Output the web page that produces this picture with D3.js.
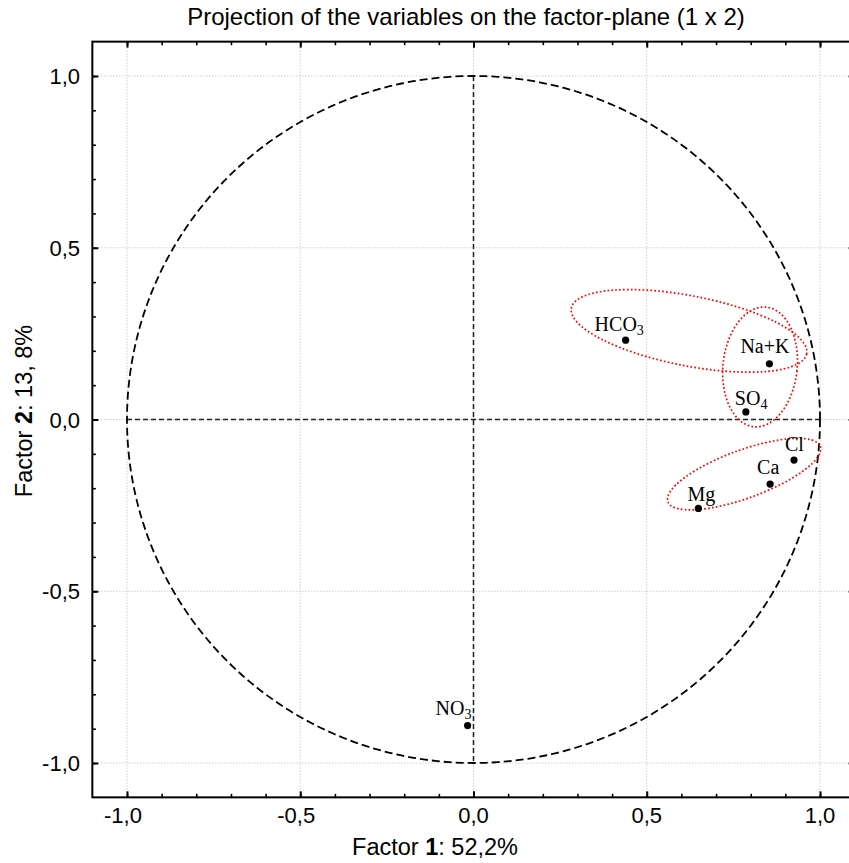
<!DOCTYPE html>
<html><head><meta charset="utf-8">
<script src="https://cdn.jsdelivr.net/npm/d3@7"></script>
<style>body{margin:0;background:#fff} svg{display:block}</style>
</head><body><svg id="c" width="849" height="863"></svg>
<script>
// ---- data ----
const variables = ["HCO3", "Na+K", "SO4", "Cl", "Ca", "Mg", "NO3"];
const labelBase = ["HCO", "Na+K", "SO", "Cl", "Ca", "Mg", "NO"];
const labelSub  = ["3", "", "4", "", "", "", "3"];
const factor1 = [0.439, 0.854, 0.786, 0.925, 0.856, 0.649, -0.017];
const factor2 = [0.231, 0.162, 0.022, -0.118, -0.188, -0.259, -0.891];
const labelDx = [-31, -29, -11, -9, -13, -11, -32];
const labelDy = [-9, -11, -7, -9, -10, -7, -11];
const tickValues = [-1, -0.5, 0, 0.5, 1];
const tickLabels = ["-1,0", "-0,5", "0,0", "0,5", "1,0"];
const minorTicks = [-1.0,-0.9,-0.8,-0.7,-0.6,-0.5,-0.4,-0.3,-0.2,-0.1,0,0.1,0.2,0.3,0.4,0.5,0.6,0.7,0.8,0.9,1.0];
// grouping ellipses (data units)
const groupCx = [0.622, 0.827, 0.781];
const groupCy = [0.258, 0.153, -0.159];
const groupRx = [0.346, 0.107, 0.234];
const groupRy = [0.102, 0.175, 0.070];
const groupAngle = [11, 6, -20];

const titleText = "Projection of the variables on the factor-plane (1 x 2)";

// ---- scales ----
const x = d3.scaleLinear().domain([-1.1, 1.1]).range([92.35, 854.65]);
const y = d3.scaleLinear().domain([-1.1, 1.1]).range([797.35, 41.65]);
const svg = d3.select("#c");
const SANS = "'Liberation Sans', Arial, sans-serif";
const SERIF = "'Liberation Serif', 'Times New Roman', serif";

// grid
const grid = svg.append("g").attr("stroke", "#b8b8b8").attr("stroke-width", 1).attr("stroke-dasharray", "1,2");
tickValues.forEach(v => {
  grid.append("line").attr("x1", x(v)).attr("x2", x(v)).attr("y1", y(1.1)).attr("y2", y(-1.1));
  grid.append("line").attr("y1", y(v)).attr("y2", y(v)).attr("x1", x(-1.1)).attr("x2", x(1.1));
});

// zero lines (dashed)
const zl = svg.append("g").attr("stroke", "#222").attr("stroke-width", 1.5).attr("stroke-dasharray", "5,3");
zl.append("line").attr("x1", x(-1)).attr("x2", x(1)).attr("y1", y(0)).attr("y2", y(0));
zl.append("line").attr("x1", x(0)).attr("x2", x(0)).attr("y1", y(1)).attr("y2", y(-1));

// unit circle
const circ = d3.range(0, 361, 1).map(a => [Math.cos(a * Math.PI / 180), Math.sin(a * Math.PI / 180)]);
svg.append("path")
  .attr("d", d3.line().x(d => x(d[0])).y(d => y(d[1]))(circ))
  .attr("fill", "none").attr("stroke", "#000").attr("stroke-width", 1.8).attr("stroke-dasharray", "8,4");

// group ellipses
groupCx.forEach((cx, i) => {
  const px = x(cx), py = y(groupCy[i]);
  const rxp = x(cx + groupRx[i]) - x(cx);
  const ryp = y(groupCy[i]) - y(groupCy[i] + groupRy[i]);
  svg.append("ellipse")
    .attr("cx", px).attr("cy", py).attr("rx", rxp).attr("ry", ryp)
    .attr("transform", `rotate(${groupAngle[i]},${px},${py})`)
    .attr("fill", "none").attr("stroke", "#ff0000").attr("stroke-width", 1.7)
    .attr("stroke-dasharray", "1.7,2.2");
});

// axes with inward ticks
function addAxis(axisGen, transform) {
  const gMin = svg.append("g").attr("transform", transform)
    .call(axisGen.tickValues(minorTicks).tickSize(-3.5).tickFormat(""));
  gMin.select(".domain").remove();
  gMin.selectAll("line").attr("stroke", "#000").attr("stroke-width", 1.6);
}
function addMajor(axisGen, transform) {
  const g = svg.append("g").attr("transform", transform)
    .call(axisGen.tickValues(tickValues).tickSize(-6).tickFormat(""));
  g.select(".domain").remove();
  g.selectAll("line").attr("stroke", "#000").attr("stroke-width", 2);
}
addAxis(d3.axisBottom(x), `translate(0,${y(-1.1)})`);
addAxis(d3.axisTop(x), `translate(0,${y(1.1)})`);
addAxis(d3.axisLeft(y), `translate(${x(-1.1)},0)`);
addAxis(d3.axisRight(y), `translate(${x(1.1)},0)`);
addMajor(d3.axisBottom(x), `translate(0,${y(-1.1)})`);
addMajor(d3.axisTop(x), `translate(0,${y(1.1)})`);
addMajor(d3.axisLeft(y), `translate(${x(-1.1)},0)`);
addMajor(d3.axisRight(y), `translate(${x(1.1)},0)`);

// frame
svg.append("rect").attr("x", x(-1.1)).attr("y", y(1.1))
  .attr("width", x(1.1) - x(-1.1)).attr("height", y(-1.1) - y(1.1))
  .attr("fill", "none").attr("stroke", "#000").attr("stroke-width", 2);

// tick labels
tickValues.forEach((v, i) => {
  svg.append("text").attr("x", x(v) + (v < 0 ? -4 : 0)).attr("y", 823)
    .attr("text-anchor", "middle").attr("font-family", SANS).attr("font-size", 22)
    .text(tickLabels[i]);
  svg.append("text").attr("x", 80).attr("y", y(v) + 8)
    .attr("text-anchor", "end").attr("font-family", SANS).attr("font-size", 22)
    .text(tickLabels[i]);
});

// points and labels
factor1.forEach((f, i) => {
  const px = x(f), py = y(factor2[i]);
  svg.append("circle").attr("cx", px).attr("cy", py).attr("r", 3.6).attr("fill", "#000");
  const t = svg.append("text").attr("x", px + labelDx[i]).attr("y", py + labelDy[i])
    .attr("font-family", SERIF).attr("font-size", 20).attr("fill", "#000");
  t.append("tspan").text(labelBase[i]);
  if (labelSub[i]) t.append("tspan").attr("font-size", 14).attr("dy", 4).text(labelSub[i]);
});

// titles
svg.append("text").attr("x", 466).attr("y", 25).attr("text-anchor", "middle")
  .attr("font-family", SANS).attr("font-size", 24).text(titleText);

const xt = svg.append("text").attr("x", 435).attr("y", 855).attr("text-anchor", "middle")
  .attr("font-family", SANS).attr("font-size", 23.5);
xt.append("tspan").text("Factor ");
xt.append("tspan").attr("font-weight", "bold").text("1");
xt.append("tspan").text(": 52,2%");

const yt = svg.append("text").attr("transform", "translate(32,411) rotate(-90)").attr("text-anchor", "middle")
  .attr("font-family", SANS).attr("font-size", 23.5);
yt.append("tspan").text("Factor ");
yt.append("tspan").attr("font-weight", "bold").text("2");
yt.append("tspan").text(": 13, 8%");
</script>
</body></html>
